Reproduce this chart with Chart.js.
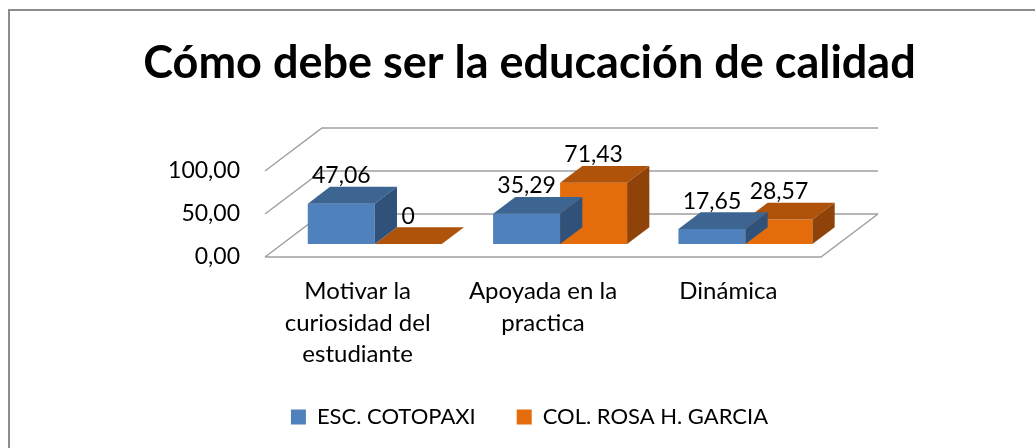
<!DOCTYPE html>
<html>
<head>
<meta charset="utf-8">
<script src="https://cdn.jsdelivr.net/npm/chart.js@4.4.1/dist/chart.umd.min.js"></script>
<style>
    html, body { margin: 0; padding: 0; background: #fff; }
</style>
</head>
<body>
<canvas id="grafico" width="1035" height="448"></canvas>
<script>
// Datos del gráfico
const categorias = [
    ['Motivar la', 'curiosidad del', 'estudiante'],
    ['Apoyada en la', 'practica'],
    ['Dinámica']
];
const escCotopaxi = [47.06, 35.29, 17.65];
const colRosaGarcia = [0, 71.43, 28.57];
const ticksY = [0, 50, 100];

// Efecto 3D (profundidad del piso y posición de las barras dentro de ella)
const PROF = { x: 57, y: -43 };
const BARRA_FRENTE = 0.3;
const BARRA_FONDO = 0.69;
const FUENTE = "Lato, 'Open Sans', sans-serif";

const colores = [
    { frente: '#4F81BD', arriba: '#3D6592', lado: '#30527A' },
    { frente: '#E46C0A', arriba: '#B0530A', lado: '#8F4308' }
];

function formato(v) {
    return v === 0 ? '0' : v.toFixed(2).replace('.', ',');
}

// Marco exterior
const marcoPlugin = {
    id: 'marco',
    beforeDraw(chart) {
        const ctx = chart.ctx;
        ctx.save();
        ctx.strokeStyle = '#8C8C8C';
        ctx.lineWidth = 2;
        ctx.strokeRect(9, 10, chart.width + 20, chart.height + 20);
        ctx.restore();
    }
};

// Paredes, piso y barras en 3D
const tresDPlugin = {
    id: 'tresD',
    beforeDatasetsDraw(chart) {
        const ctx = chart.ctx;
        const area = chart.chartArea;
        const y = chart.scales.y;
        const L = area.left, R = area.right;
        const y0 = y.getPixelForValue(0);

        ctx.save();
        ctx.strokeStyle = '#A0A0A0';
        ctx.lineWidth = 1.5;
        ctx.beginPath();
        // piso
        ctx.moveTo(L, y0);
        ctx.lineTo(R, y0);
        ctx.lineTo(R + PROF.x, y0 + PROF.y);
        // pared lateral y pared del fondo
        y.ticks.forEach(function(t) {
            const py = y.getPixelForValue(t.value);
            ctx.moveTo(L, py);
            ctx.lineTo(L + PROF.x, py + PROF.y);
            ctx.lineTo(R + PROF.x, py + PROF.y);
        });
        ctx.stroke();
        ctx.restore();

        // desplazar las barras hacia dentro del piso
        ctx.save();
        ctx.translate(PROF.x * BARRA_FRENTE, PROF.y * BARRA_FRENTE);
    },
    afterDatasetDraw(chart, args) {
        const ctx = chart.ctx;
        const c = colores[args.index];
        const dx = PROF.x * (BARRA_FONDO - BARRA_FRENTE);
        const dy = PROF.y * (BARRA_FONDO - BARRA_FRENTE);
        args.meta.data.forEach(function(bar) {
            const p = bar.getProps(['x', 'y', 'base', 'width'], true);
            const izq = p.x - p.width / 2, der = p.x + p.width / 2;
            // cara superior
            ctx.fillStyle = c.arriba;
            ctx.beginPath();
            ctx.moveTo(izq, p.y);
            ctx.lineTo(der, p.y);
            ctx.lineTo(der + dx, p.y + dy);
            ctx.lineTo(izq + dx, p.y + dy);
            ctx.closePath();
            ctx.fill();
            // cara lateral
            ctx.fillStyle = c.lado;
            ctx.beginPath();
            ctx.moveTo(der, p.y);
            ctx.lineTo(der + dx, p.y + dy);
            ctx.lineTo(der + dx, p.base + dy);
            ctx.lineTo(der, p.base);
            ctx.closePath();
            ctx.fill();
        });
    },
    afterDatasetsDraw(chart) {
        const ctx = chart.ctx;
        const dy = PROF.y * (BARRA_FONDO - BARRA_FRENTE);
        // etiquetas de datos
        ctx.fillStyle = '#000';
        ctx.font = '23px ' + FUENTE;
        ctx.textAlign = 'center';
        ctx.textBaseline = 'middle';
        chart.data.datasets.forEach(function(ds, i) {
            chart.getDatasetMeta(i).data.forEach(function(bar, j) {
                const p = bar.getProps(['x', 'y'], true);
                ctx.fillText(formato(ds.data[j]), p.x, p.y + dy - 11);
            });
        });
        ctx.restore();
    }
};

new Chart(document.getElementById('grafico'), {
    type: 'bar',
    data: {
        labels: categorias,
        datasets: [
            {
                label: 'ESC. COTOPAXI',
                data: escCotopaxi,
                backgroundColor: colores[0].frente,
                borderWidth: 0,
                categoryPercentage: 0.723,
                barPercentage: 1
            },
            {
                label: 'COL. ROSA H. GARCIA',
                data: colRosaGarcia,
                backgroundColor: colores[1].frente,
                borderWidth: 0,
                categoryPercentage: 0.723,
                barPercentage: 1
            }
        ]
    },
    options: {
        responsive: false,
        animation: false,
        events: [],
        layout: {
            padding: { left: 24, top: 0, right: 0, bottom: 10 }
        },
        plugins: {
            title: {
                display: true,
                text: 'Cómo debe ser la educación de calidad',
                color: '#000',
                font: { family: FUENTE, size: 45, weight: 'bold', lineHeight: 1.2 },
                padding: { top: 36, bottom: 81 }
            },
            legend: {
                display: true,
                position: 'bottom',
                labels: {
                    color: '#000',
                    font: { family: FUENTE, size: 22 },
                    boxWidth: 15,
                    boxHeight: 15,
                    padding: 41
                }
            },
            tooltip: { enabled: false }
        },
        scales: {
            x: {
                grid: { display: false, drawTicks: false },
                border: { display: false },
                ticks: {
                    color: '#000',
                    padding: 19,
                    maxRotation: 0,
                    font: { family: FUENTE, size: 24, lineHeight: 1.31 }
                },
                afterFit: function(scale) { scale.height = 108; }
            },
            y: {
                min: ticksY[0],
                max: ticksY[ticksY.length - 1],
                afterBuildTicks: function(scale) {
                    scale.ticks = ticksY.map(function(v) { return { value: v }; });
                },
                grid: { display: false, drawTicks: false },
                border: { display: false },
                ticks: {
                    color: '#000',
                    padding: 25,
                    font: { family: FUENTE, size: 23 },
                    callback: function(value) {
                        return value.toFixed(2).replace('.', ',');
                    }
                },
                afterFit: function(scale) { scale.width = 241; }
            },
            y2: {
                position: 'right',
                grid: { display: false, drawTicks: false },
                border: { display: false },
                ticks: { display: false },
                afterFit: function(scale) { scale.width = 214; }
            }
        }
    },
    plugins: [marcoPlugin, tresDPlugin]
});
</script>
</body>
</html>
